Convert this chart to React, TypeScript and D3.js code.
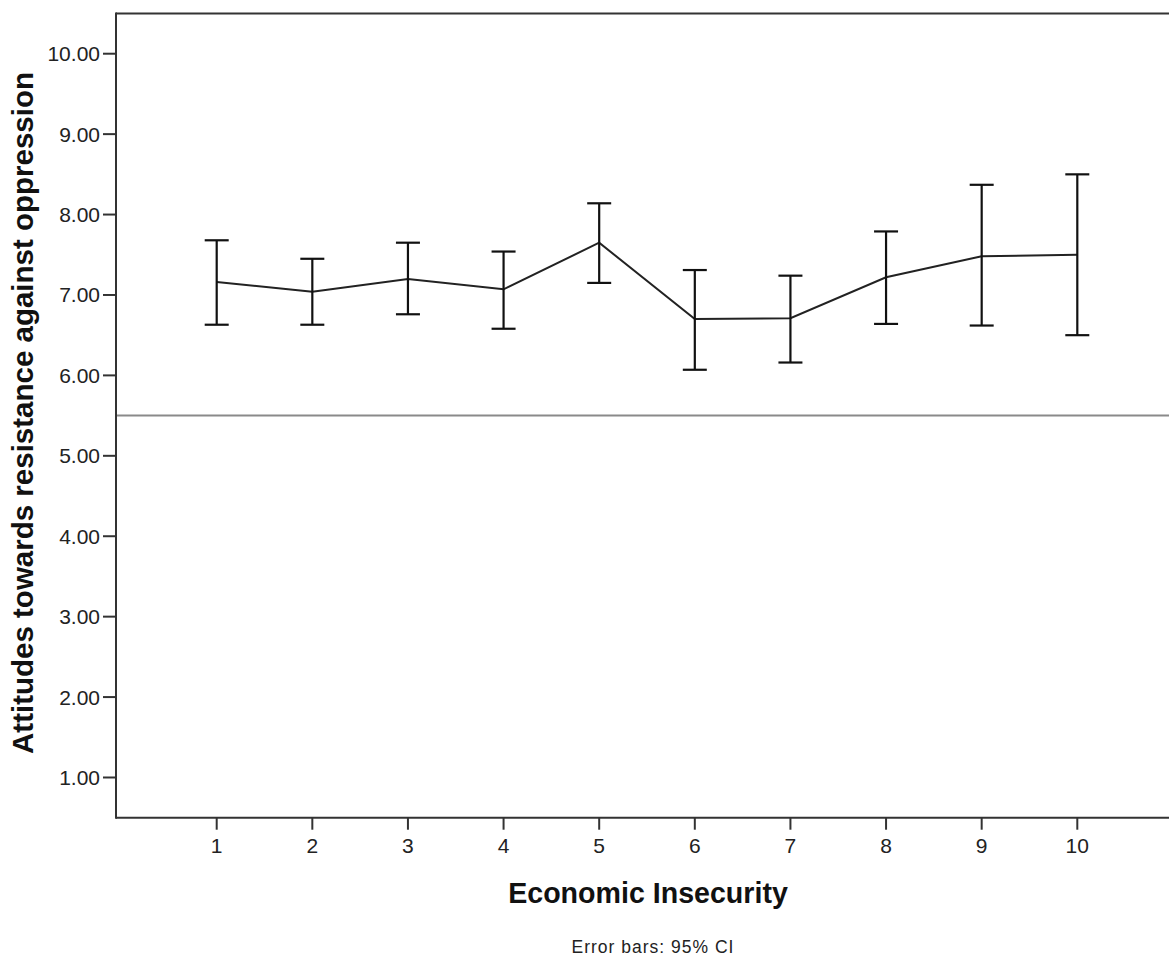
import React from "react";
import * as d3 from "d3";

const categories = [1, 2, 3, 4, 5, 6, 7, 8, 9, 10];
const means = [7.16, 7.04, 7.2, 7.07, 7.65, 6.7, 6.71, 7.22, 7.48, 7.5];
const upper = [7.68, 7.45, 7.65, 7.54, 8.14, 7.31, 7.24, 7.79, 8.37, 8.5];
const lower = [6.63, 6.63, 6.76, 6.58, 7.15, 6.07, 6.16, 6.64, 6.62, 6.5];
const yTicks = [1, 2, 3, 4, 5, 6, 7, 8, 9, 10];
const referenceValue = 5.5;

const W = 1169;
const H = 957;
const left = 116;
const top = 13.5;
const bottom = 817.7;

export default function App() {
  const x = d3.scaleLinear().domain([1, 10]).range([216.7, 1077.3]);
  const y = d3.scaleLinear().domain([0.5, 10.5]).range([bottom, top]);
  const line = d3
    .line<number>()
    .x((_, i) => x(categories[i]))
    .y((d) => y(d));
  const font = "'Liberation Sans', Arial, sans-serif";
  const capW = 12;

  return (
    <svg
      width={W}
      height={H}
      style={{ position: "absolute", left: 0, top: 0, background: "#fff" }}
      fontFamily={font}
    >
      <rect width={W} height={H} fill="#fff" />
      {/* frame */}
      <line x1={left} x2={W} y1={top} y2={top} stroke="#333" strokeWidth={2} />
      <line x1={left} x2={left} y1={top - 1} y2={bottom + 1} stroke="#333" strokeWidth={2} />
      <line x1={left} x2={W} y1={bottom} y2={bottom} stroke="#333" strokeWidth={2} />

      {/* reference line */}
      <line
        x1={left + 1}
        x2={W}
        y1={y(referenceValue)}
        y2={y(referenceValue)}
        stroke="#8a8a8a"
        strokeWidth={2}
      />

      {/* y ticks */}
      {yTicks.map((t) => (
        <g key={t}>
          <line x1={left - 13} x2={left} y1={y(t)} y2={y(t)} stroke="#333" strokeWidth={2} />
          <text
            x={left - 16}
            y={y(t) + 7.5}
            textAnchor="end"
            fontSize={21}
            fill="#222"
          >
            {t.toFixed(2)}
          </text>
        </g>
      ))}

      {/* x ticks */}
      {categories.map((c) => (
        <g key={c}>
          <line x1={x(c)} x2={x(c)} y1={bottom} y2={bottom + 12} stroke="#333" strokeWidth={2} />
          <text x={x(c)} y={852.5} textAnchor="middle" fontSize={21} fill="#222">
            {c}
          </text>
        </g>
      ))}

      {/* mean line */}
      <path d={line(means) || ""} fill="none" stroke="#222" strokeWidth={2} />

      {/* error bars */}
      {categories.map((c, i) => (
        <g key={c} stroke="#111" strokeWidth={2.2}>
          <line x1={x(c)} x2={x(c)} y1={y(upper[i])} y2={y(lower[i])} />
          <line x1={x(c) - capW} x2={x(c) + capW} y1={y(upper[i])} y2={y(upper[i])} />
          <line x1={x(c) - capW} x2={x(c) + capW} y1={y(lower[i])} y2={y(lower[i])} />
        </g>
      ))}

      {/* axis titles */}
      <text
        x={648}
        y={903}
        textAnchor="middle"
        fontSize={28.6}
        fontWeight="bold"
        fill="#111"
      >
        Economic Insecurity
      </text>
      <text
        transform={`translate(33, 413) rotate(-90)`}
        textAnchor="middle"
        fontSize={29.5}
        fontWeight="bold"
        fill="#111"
      >
        Attitudes towards resistance against oppression
      </text>
      <text
        x={653}
        y={953}
        textAnchor="middle"
        fontSize={17.5}
        letterSpacing={1}
        fill="#222"
      >
        Error bars: 95% CI
      </text>
    </svg>
  );
}
